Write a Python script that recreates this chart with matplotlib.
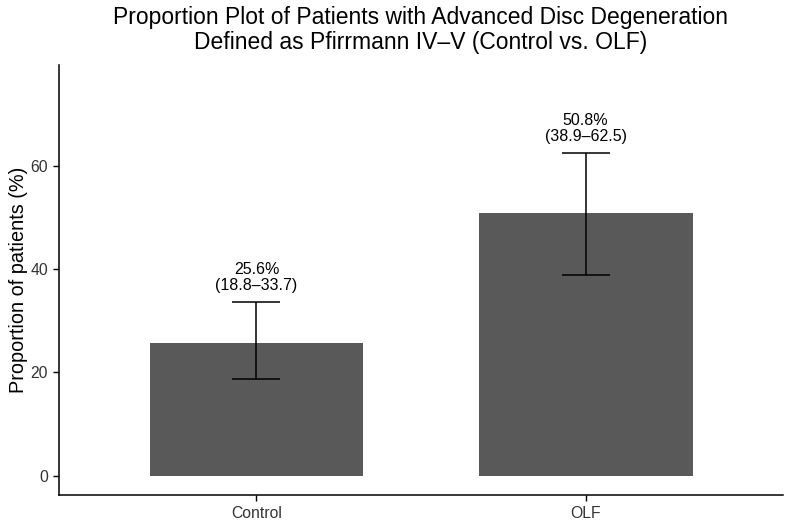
import matplotlib
matplotlib.use("Agg")
import matplotlib.pyplot as plt

categories = ["Control", "OLF"]
proportions = [25.6, 50.8]
ci_low = [18.8, 38.9]
ci_high = [33.7, 62.5]
y_ticks = [0, 20, 40, 60]

plt.rcParams['font.family'] = ['Liberation Sans', 'DejaVu Sans']

fig = plt.figure(figsize=(7.93, 5.27), dpi=100)
ax = fig.add_axes([0.0744, 0.0607, 0.9130, 0.8160])

x = list(range(1, len(categories) + 1))
ax.bar(x, proportions, width=0.65, color="#595959", zorder=2)
yerr = [[p - l for p, l in zip(proportions, ci_low)],
        [h - p for p, h in zip(proportions, ci_high)]]
ax.errorbar(x, proportions, yerr=yerr, fmt="none", ecolor="black",
            elinewidth=1.1, capsize=17, capthick=1.1, zorder=3)

for xi, p, l, h in zip(x, proportions, ci_low, ci_high):
    ax.text(xi, h + 1.7, f"{p:.1f}%\n({l:.1f}\u2013{h:.1f})", ha="center",
            va="bottom", fontsize=11.5, color="black", linespacing=1.1)

ax.set_xlim(0.4, 2.6)
ax.set_ylim(-3.75, 79.5)
ax.set_xticks(x)
ax.set_xticklabels(categories)
ax.set_yticks(y_ticks)
ax.tick_params(axis="both", labelsize=11.3, colors="black", labelcolor="#333333",
               length=4.3, width=1)
for s in ["top", "right"]:
    ax.spines[s].set_visible(False)
for s in ["left", "bottom"]:
    ax.spines[s].set_linewidth(1.1)

ax.set_ylabel("Proportion of patients (%)", fontsize=14.3, color="black", labelpad=2)
fig.text(0.530, 0.988, "Proportion Plot of Patients with Advanced Disc Degeneration\nDefined as Pfirrmann IV\u2013V (Control vs. OLF)",
         ha="center", va="top", fontsize=16.5, linespacing=1.08)

fig.savefig("out.png", dpi=100)
